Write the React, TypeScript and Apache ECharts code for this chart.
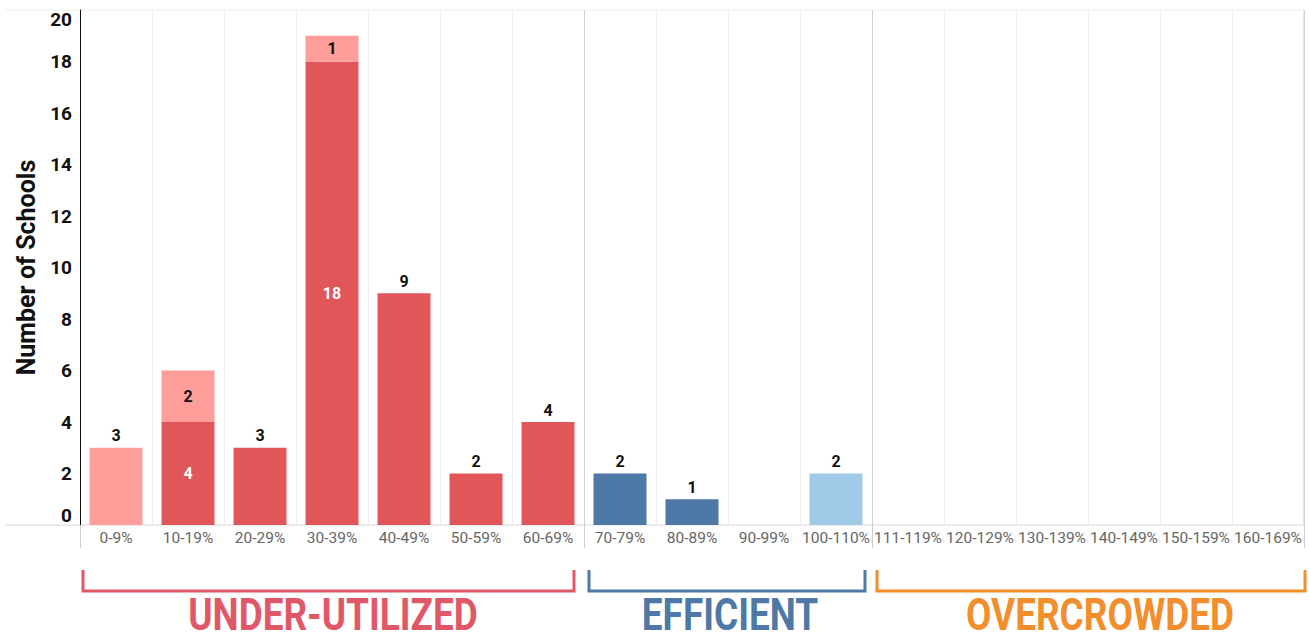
import React, { useEffect, useRef } from "react";
import * as echarts from "echarts";

const categories = [
  "0-9%", "10-19%", "20-29%", "30-39%", "40-49%", "50-59%", "60-69%",
  "70-79%", "80-89%", "90-99%", "100-110%", "111-119%", "120-129%",
  "130-139%", "140-149%", "150-159%", "160-169%",
];
const underDark: (number | null)[] = [null, 4, 3, 18, 9, 2, 4, null, null, null, null, null, null, null, null, null, null];
const underLight: (number | null)[] = [3, 2, null, 1, null, null, null, null, null, null, null, null, null, null, null, null, null];
const efficientDark: (number | null)[] = [null, null, null, null, null, null, null, 2, 1, null, null, null, null, null, null, null, null];
const efficientLight: (number | null)[] = [null, null, null, null, null, null, null, null, null, null, 2, null, null, null, null, null, null];
const yTicks = [0, 2, 4, 6, 8, 10, 12, 14, 16, 18, 20];
const groups = [
  { name: "UNDER-UTILIZED", from: 0, to: 6 },
  { name: "EFFICIENT", from: 7, to: 10 },
  { name: "OVERCROWDED", from: 11, to: 16 },
];

const groupStyle = [
  { color: "#e05868", insetL: 3, insetR: 10, dx: 1 },
  { color: "#4e79a7", insetL: 5, insetR: 7, dx: 2 },
  { color: "#f28e2b", insetL: 5, insetR: -1, dx: 12 },
];

const RED = "#e15759";
const LIGHT_RED = "#ff9d9a";
const BLUE = "#4e79a7";
const LIGHT_BLUE = "#a0cbe8";

const labelFont = { fontFamily: "Roboto", fontWeight: "bold" as const, fontSize: 16 };
const topBlack = { show: true, position: "top", color: "#111", distance: 4, ...labelFont };
const insideWhite = { show: true, position: "inside", color: "#fff", ...labelFont };
const insideBlack = { show: true, position: "inside", color: "#111", ...labelFont };

export default function App() {
  const ref = useRef<HTMLDivElement>(null);
  useEffect(() => {
    document.body.style.margin = "0";
    const chart = echarts.init(ref.current!, null, { renderer: "svg" });

    const splitColors = categories.map(() => "#f0f0f0");
    splitColors.push("#f0f0f0");
    groups.forEach((g) => {
      splitColors[g.to + 1] = "#d2d2d2";
    });

    const darkData = underDark.map((v, i) =>
      v == null ? null : { value: v, label: underLight[i] != null ? insideWhite : topBlack }
    );
    const lightData = underLight.map((v, i) =>
      v == null ? null : { value: v, label: underDark[i] != null ? insideBlack : topBlack }
    );

    const tickIdx = new Set(groups.map((g) => g.from));

    chart.setOption({
      animation: false,
      backgroundColor: "#fff",
      grid: { left: 80, right: 5, top: 10, bottom: 116, containLabel: false },
      xAxis: {
        type: "category",
        data: categories,
        boundaryGap: true,
        axisLine: { show: false },
        axisTick: {
          show: true,
          length: 23,
          interval: (index: number) => tickIdx.has(index),
          lineStyle: { color: "#d0d0d0", width: 1 },
        },
        axisLabel: {
          interval: 0,
          color: "#666",
          fontSize: 15.5,
          fontFamily: "Roboto",
          margin: 5,
        },
        splitLine: { show: true, interval: 0, lineStyle: { color: splitColors, width: 1 } },
      },
      yAxis: {
        type: "value",
        min: 0,
        max: 20,
        interval: 2,
        name: "Number of Schools",
        nameLocation: "middle",
        nameGap: 40,
        nameTextStyle: { fontFamily: "Roboto", fontWeight: "bold", fontSize: 25, color: "#111" },
        axisLine: { show: true, lineStyle: { color: "#111", width: 1 } },
        axisTick: { show: false },
        splitLine: { show: false },
        axisLabel: {
          color: "#111",
          fontFamily: "Roboto",
          fontWeight: "bold",
          fontSize: 19,
          margin: 8,
          verticalAlignMinLabel: "bottom",
          verticalAlignMaxLabel: "top",
          customValues: yTicks,
        },
      },
      series: [
        { name: "Under dark", type: "bar", stack: "s", barWidth: 53, itemStyle: { color: RED }, data: darkData },
        { name: "Under light", type: "bar", stack: "s", barWidth: 53, itemStyle: { color: LIGHT_RED }, data: lightData },
        { name: "Efficient dark", type: "bar", stack: "s", barWidth: 53, itemStyle: { color: BLUE }, label: topBlack, data: efficientDark },
        { name: "Efficient light", type: "bar", stack: "s", barWidth: 53, itemStyle: { color: LIGHT_BLUE }, label: topBlack, data: efficientLight },
      ],
    });

    const c0 = chart.convertToPixel({ xAxisIndex: 0 }, 0) as number;
    const c1 = chart.convertToPixel({ xAxisIndex: 0 }, 1) as number;
    const band = c1 - c0;
    const boundary = (i: number) => c0 - band / 2 + i * band;
    const yTop = chart.convertToPixel({ yAxisIndex: 0 }, 20) as number;
    const yBot = chart.convertToPixel({ yAxisIndex: 0 }, 0) as number;
    const right = boundary(categories.length);

    const graphics: any[] = [
      { type: "line", shape: { x1: 5, y1: yTop, x2: right, y2: yTop }, style: { stroke: "#ececec", lineWidth: 1 }, z: 0 },
      { type: "line", shape: { x1: 5, y1: yBot, x2: right, y2: yBot }, style: { stroke: "#d6d6d6", lineWidth: 1 }, z: 0 },
      { type: "line", shape: { x1: right, y1: yTop, x2: right, y2: yBot }, style: { stroke: "#cfcfcf", lineWidth: 1 }, z: 0 },
    ];
    groups.forEach((g, k) => {
      const st = groupStyle[k];
      const xa = boundary(g.from) + st.insetL;
      const xb = boundary(g.to + 1) - st.insetR;
      graphics.push({
        type: "polyline",
        shape: { points: [[xa, 570], [xa, 591], [xb, 591], [xb, 570]] },
        style: { stroke: st.color, lineWidth: 3, fill: null },
      });
      graphics.push({
        type: "text",
        x: (boundary(g.from) + boundary(g.to + 1)) / 2 + st.dx,
        y: 615,
        scaleX: 0.84,
        style: {
          text: g.name,
          fill: st.color,
          font: "bold 44px Roboto",
          textAlign: "center",
          textVerticalAlign: "middle",
        },
      });
    });
    chart.setOption({ graphic: graphics });

    return () => chart.dispose();
  }, []);
  return <div ref={ref} style={{ width: 1309, height: 641 }} />;
}
